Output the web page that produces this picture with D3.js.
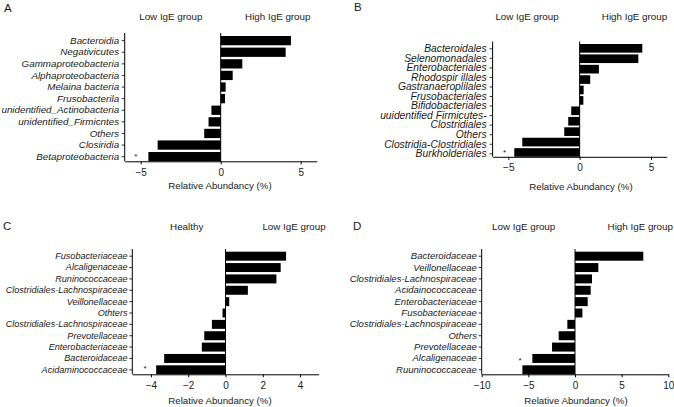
<!DOCTYPE html>
<html>
<head>
<meta charset="utf-8">
<script src="https://cdn.jsdelivr.net/npm/d3@7"></script>
<style>
  html, body { margin: 0; padding: 0; background: #fff; }
  svg { display: block; }
  text { font-family: "Liberation Sans", Arial, Helvetica, sans-serif; fill: #1a1a1a; }
</style>
</head>
<body>
<svg id="chart" width="674" height="407"></svg>
<script>
// ---------- DATA ----------
const catsA = ["Bacteroidia", "Negativicutes", "Gammaproteobacteria", "Alphaproteobacteria",
  "Melaina bacteria", "Frusobacterila", "unidentified_Actinobacteria", "unidentified_Firmicntes",
  "Others", "Closiridia", "Betaproteobacteria"];
const valsA = [4.39, 4.06, 1.35, 0.75, 0.31, 0.27, -0.58, -0.76, -1.03, -3.94, -4.52];

const catsB = ["Bacteroidales", "Selenomonadales", "Enterobacteriales", "Rhodospir illales",
  "Gastranaeroplilales", "Frusobacteriales", "Bifidobacteriales",
  "uuidentified Firmicutes-Clostridiales", "Others", "Clostridia-Clostridiales", "Burkholderiales"];
const valsB = [4.39, 4.11, 1.35, 0.74, 0.28, 0.26, -0.59, -0.80, -1.08, -4.02, -4.58];
// tick label lines of panel B (one label wraps onto two lines)
const labelLinesB = ["Bacteroidales", "Selenomonadales", "Enterobacteriales", "Rhodospir illales",
  "Gastranaeroplilales", "Frusobacteriales", "Bifidobacteriales", "uuidentified Firmicutes-",
  "Clostridiales", "Others", "Clostridia-Clostridiales", "Burkholderiales"];

const catsC = ["Fusobacteriaceae", "Alcaligenaceae", "Runinococcaceae", "Clostridiales-Lachnospiraceae",
  "Veillonellaceae", "Othters", "Clostridiales-Lachnospiraceae ", "Prevotellaceae",
  "Enterobacteriaceae", "Bacteroidaceae", "Acidaminococcaceae"];
const valsC = [3.25, 2.96, 2.73, 1.20, 0.20, -0.16, -0.73, -1.14, -1.27, -3.29, -3.72];

const catsD = ["Bacteroidaceae", "Veillonellaceae", "Clostridiales-Lachnospiraceae", "Acidainococcaceae",
  "Enterobacteriaceae", "Fusobacteriaceae", "Clostridiales-Lachnospiraceae ", "Others",
  "Prevotellaceae", "Alcaligenaceae", "Ruuninococcaceae"];
const valsD = [7.32, 2.50, 1.82, 1.68, 1.36, 0.79, -0.82, -1.75, -2.46, -4.57, -5.64];

const ticksA = [-5, 0, 5];
const ticksB = [-5, 0, 5];
const ticksC = [-4, -2, 0, 2, 4];
const ticksD = [-10, -5, 0, 5, 10];

const groupsA = ["Low IgE group", "High IgE group"];
const groupsB = ["Low IgE group", "High IgE group"];
const groupsC = ["Healthy", "Low IgE group"];
const groupsD = ["Low IgE group", "High IgE group"];

const xTitle = "Relative Abundancy (%)";

// ---------- LAYOUT ----------
const panels = [
  { letter: "A", cats: catsA, vals: valsA, ticks: ticksA, groups: groupsA,
    domain: [-6, 6], xr: [124.7, 316.7], yr: [36, 161.3], axisTop: 33, pad: 0.2,
    labelFs: 9.8, tickPad: 2.6,
    letterPos: [4, 11.5], groupX: [170.8, 277.8], groupY: 19.5, titleX: 220, titleY: 189,
    star: { cat: "Betaproteobacteria", x: -5.3, dy: -2.2 } },
  { letter: "B", cats: catsB, vals: valsB, ticks: ticksB, groups: groupsB, lines: labelLinesB,
    domain: [-6.1, 6.1], xr: [492.6, 666.7], yr: [44, 156.8], axisTop: 41.5, pad: 0.17,
    labelFs: 10.3, tickPad: 3, linesRange: [48.3, 153.3],
    letterPos: [354, 11], groupX: [527, 634.5], groupY: 19.5, titleX: 581, titleY: 189.5,
    star: { cat: "Burkholderiales", x: -5.26, dy: -2 } },
  { letter: "C", cats: catsC, vals: valsC, ticks: ticksC, groups: groupsC,
    domain: [-5, 5], xr: [132.3, 318.7], yr: [251.7, 374.3], axisTop: 249, pad: 0.21,
    labelFs: 9.1, tickPad: 1.8,
    letterPos: [3, 230], groupX: [186.7, 294], groupY: 230, titleX: 220, titleY: 403.5,
    star: { cat: "Acidaminococcaceae", x: -4.32, dy: -3.5 } },
  { letter: "D", cats: catsD, vals: valsD, ticks: ticksD, groups: groupsD,
    domain: [-10, 10], xr: [481.7, 668.3], yr: [251.7, 374.3], axisTop: 249, pad: 0.21,
    labelFs: 9.5, tickPad: 1.8,
    letterPos: [353, 230], groupX: [523.7, 640.3], groupY: 230, titleX: 576, titleY: 403.5,
    star: { cat: "Alcaligenaceae", x: -5.9, dy: -0.5 } }
];

const svg = d3.select("#chart");

panels.forEach(p => {
  const g = svg.append("g");
  const x = d3.scaleLinear().domain(p.domain).range(p.xr);
  const y = d3.scaleBand().domain(p.cats).range(p.yr).paddingInner(p.pad).paddingOuter(0);
  const axisY = p.yr[1];

  // bars
  g.selectAll("rect.bar").data(p.cats.map((c, i) => ({ c, v: p.vals[i] })))
    .join("rect")
    .attr("class", "bar")
    .attr("x", d => x(Math.min(0, d.v)))
    .attr("width", d => Math.abs(x(d.v) - x(0)))
    .attr("y", d => y(d.c))
    .attr("height", y.bandwidth())
    .attr("fill", "#000");

  // zero line
  g.append("line")
    .attr("x1", x(0)).attr("x2", x(0))
    .attr("y1", p.axisTop).attr("y2", axisY)
    .attr("stroke", "#000").attr("stroke-width", 1);

  // x axis
  const xa = g.append("g")
    .attr("transform", `translate(0,${axisY})`)
    .call(d3.axisBottom(x).tickValues(p.ticks).tickSize(3).tickPadding(4.2).tickSizeOuter(0));
  xa.select(".domain").attr("stroke", "#000");
  xa.selectAll(".tick line").attr("stroke", "#000");
  xa.selectAll(".tick text").style("font-size", "10px").style("font-family", "'Liberation Sans', Arial, sans-serif").attr("fill", "#1a1a1a");

  // y axis
  let ya;
  if (p.lines) {
    const yl = d3.scalePoint().domain(p.lines).range(p.linesRange);
    ya = g.append("g").attr("transform", `translate(${p.xr[0]},0)`)
      .call(d3.axisLeft(yl).tickSize(3).tickPadding(p.tickPad).tickSizeOuter(0));
  } else {
    ya = g.append("g").attr("transform", `translate(${p.xr[0]},0)`)
      .call(d3.axisLeft(y).tickSize(3).tickPadding(p.tickPad).tickSizeOuter(0));
  }
  ya.select(".domain").attr("d", `M0,${p.axisTop}V${axisY}`).attr("stroke", "#000");
  ya.selectAll(".tick line").attr("stroke", "#000").attr("stroke-width", 0.8);
  ya.selectAll(".tick text")
    .style("font-size", p.labelFs + "px")
    .style("font-style", "italic")
    .style("font-family", "'Liberation Sans', Arial, sans-serif")
    .attr("fill", "#1a1a1a");

  // star
  g.append("text")
    .attr("x", x(p.star.x))
    .attr("y", y(p.star.cat) + y.bandwidth() / 2 + p.star.dy + 5)
    .attr("text-anchor", "middle")
    .style("font-size", "8px")
    .text("*");

  // group labels
  g.selectAll("text.grp").data(p.groups).join("text")
    .attr("class", "grp")
    .attr("x", (d, i) => p.groupX[i])
    .attr("y", p.groupY)
    .attr("text-anchor", "middle")
    .style("font-size", "9.8px")
    .text(d => d);

  // x title
  g.append("text")
    .attr("x", p.titleX).attr("y", p.titleY)
    .attr("text-anchor", "middle")
    .style("font-size", "9.7px")
    .text(xTitle);

  // panel letter
  g.append("text")
    .attr("x", p.letterPos[0]).attr("y", p.letterPos[1])
    .style("font-size", "11.5px")
    .text(p.letter);
});
</script>
</body>
</html>
